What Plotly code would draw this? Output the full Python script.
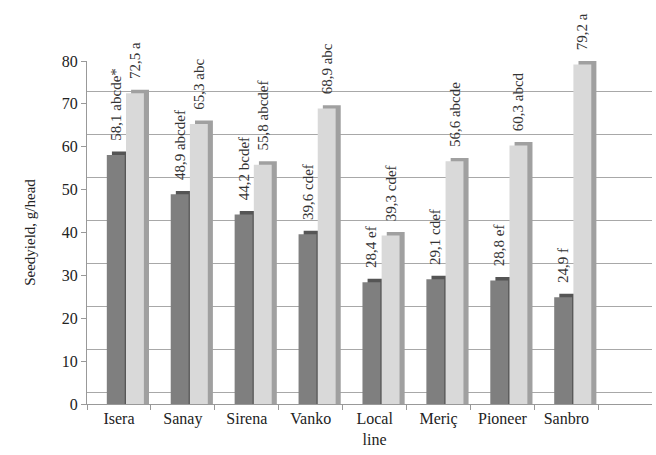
import plotly.graph_objects as go

categories = ["Isera", "Sanay", "Sirena", "Vanko", "Local<br>line", "Meriç", "Pioneer", "Sanbro"]
series1 = [58.1, 48.9, 44.2, 39.6, 28.4, 29.1, 28.8, 24.9]
series2 = [72.5, 65.3, 55.8, 68.9, 39.3, 56.6, 60.3, 79.2]
labels1 = ["58,1 abcde*", "48,9 abcdef", "44,2 bcdef", "39,6 cdef", "28,4 ef", "29,1 cdef", "28,8 ef", "24,9 f"]
labels2 = ["72,5 a", "65,3 abc", "55,8 abcdef", "68,9 abc", "39,3 cdef", "56,6 abcde", "60,3 abcd", "79,2 a"]
y_ticks = [0, 10, 20, 30, 40, 50, 60, 70, 80]

FONT = "Liberation Serif"
PAD = "\u00a0\u00a0\u00a0"
DEPTH = 0.8  # visual depth of the pseudo-3D top/side in data units

fig = go.Figure()

def add_series(vals, labels, front, shade, off):
    fig.add_trace(go.Bar(x=categories, y=[v + DEPTH for v in vals], offset=off + 0.08, width=0.28,
                         marker=dict(color=shade, line=dict(width=0)), hoverinfo="skip",
                         showlegend=False))
    tf = dict(family=FONT, size=15, color="#333333")
    fig.add_trace(go.Bar(x=categories, y=vals, offset=off, width=0.28,
                         marker=dict(color=front, line=dict(width=0)),
                         text=[PAD + t for t in labels], textposition="outside", textangle=-90,
                         constraintext="none", cliponaxis=False,
                         textfont=tf, outsidetextfont=tf,
                         showlegend=False))

add_series(series1, labels1, "#7f7f7f", "#555555", -0.19)
add_series(series2, labels2, "#d9d9d9", "#a0a0a0", 0.11)

# invisible trace for back-wall gridlines
fig.add_trace(go.Scatter(x=[categories[0]], y=[0], yaxis="y2", mode="markers",
                         marker=dict(opacity=0), showlegend=False, hoverinfo="skip"))

fig.update_layout(
    width=656, height=455,
    margin=dict(l=87, r=4, t=61, b=51),
    paper_bgcolor="white", plot_bgcolor="white",
    barmode="overlay",
    font=dict(family=FONT, color="#222222"),
    xaxis=dict(type="category", range=[-0.5, 8.34], showgrid=False,
               showline=True, linecolor="#999999", linewidth=1,
               ticks="outside", tickson="boundaries", ticklen=5, tickcolor="#999999",
               tickfont=dict(family=FONT, size=16, color="#222222")),
    yaxis=dict(range=[0, 80], tickvals=y_ticks, showgrid=False, zeroline=False,
               showline=True, linecolor="#999999", linewidth=1,
               ticks="outside", ticklen=5, tickcolor="#999999",
               tickfont=dict(family=FONT, size=16, color="#222222"),
               title=dict(text="Seedyield, g/head", font=dict(family=FONT, size=15, color="#222222"),
                          standoff=22)),
    yaxis2=dict(overlaying="y", range=[-2.8, 77.2], tickvals=y_ticks, showgrid=True,
                gridcolor="#a8a8a8", gridwidth=1.3, showticklabels=False, zeroline=False,
                showline=False, ticks=""),
)

fig.write_html("out.html")
